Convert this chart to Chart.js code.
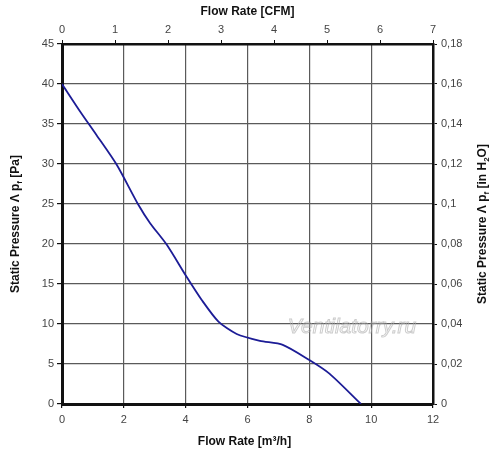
<!DOCTYPE html>
<html>
<head>
<meta charset="utf-8">
<script src="https://cdn.jsdelivr.net/npm/chart.js@4"></script>
<style>
  html, body { margin: 0; padding: 0; background: #fff; }
  #wrap { width: 500px; height: 461px; position: relative; }
</style>
</head>
<body>
<div id="wrap"><canvas id="fanChart"></canvas></div>
<script>
// flow rate in m3/h and static pressure in Pa
const flowRate = [0, 0.58, 1.12, 1.77, 2.47, 2.85, 3.39, 4.03, 4.52, 5.06, 5.65, 6.4, 7.14, 8.0, 8.65, 9.67];
const pressure = [40, 36.6, 33.6, 29.9, 24.9, 22.6, 19.9, 15.9, 13.0, 10.3, 8.75, 7.9, 7.4, 5.5, 3.8, 0];

const axisFont = { family: 'Liberation Sans, Arial, sans-serif', size: 11 };
const tickColor = '#444';
const gridColor = '#5a5a5a';

// draws a text made of pieces, some of them as subscript
function drawRich(ctx, parts, x, y, angle) {
    const big = 'bold 12px Liberation Sans, Arial, sans-serif';
    const small = 'bold 8px Liberation Sans, Arial, sans-serif';
    let total = 0;
    parts.forEach(function(p) {
        ctx.font = p.sub ? small : big;
        total += ctx.measureText(p.t).width;
    });
    ctx.save();
    ctx.translate(x, y);
    ctx.rotate(angle);
    ctx.fillStyle = '#111';
    ctx.textBaseline = 'middle';
    ctx.textAlign = 'left';
    let cx = -total / 2;
    parts.forEach(function(p) {
        ctx.font = p.sub ? small : big;
        ctx.fillText(p.t, cx, p.sub ? 4 : 0);
        cx += ctx.measureText(p.t).width;
    });
    ctx.restore();
}

const titlesPlugin = {
    id: 'titles',
    afterDraw: function(chart) {
        const ctx = chart.ctx;
        const area = chart.chartArea;
        const midX = (area.left + area.right) / 2;
        const midY = (area.top + area.bottom) / 2;
        drawRich(ctx, [{ t: 'Flow Rate [CFM]' }], midX, 12, 0);
        drawRich(ctx, [{ t: 'Flow Rate [m³/h]' }], midX - 3, 442, 0);
        drawRich(ctx, [{ t: 'Static Pressure Λ p' }, { t: 'f', sub: true }, { t: ' [Pa]' }], 16, midY, -Math.PI / 2);
        drawRich(ctx, [{ t: 'Static Pressure Λ p' }, { t: 'f', sub: true }, { t: ' [in H' }, { t: '2', sub: true }, { t: 'O]' }], 483, midY, -Math.PI / 2);

        // watermark
        ctx.save();
        ctx.font = 'italic 21px Liberation Sans, Arial, sans-serif';
        ctx.textAlign = 'center';
        ctx.textBaseline = 'middle';
        ctx.strokeStyle = 'rgba(170,170,170,0.6)';
        ctx.lineWidth = 1;
        ctx.strokeText('Ventilatorry.ru', 352, 327);
        ctx.restore();
    }
};

const ctx = document.getElementById('fanChart').getContext('2d');
new Chart(ctx, {
    type: 'scatter',
    data: {
        datasets: [{
            label: 'Static pressure',
            data: flowRate.map(function(q, i) { return { x: q, y: pressure[i] }; }),
            showLine: true,
            borderColor: '#1c1c96',
            borderWidth: 1.8,
            pointRadius: 0,
            tension: 0.25,
            xAxisID: 'x',
            yAxisID: 'y'
        }]
    },
    options: {
        responsive: true,
        maintainAspectRatio: false,
        animation: false,
        layout: { padding: 0 },
        plugins: {
            legend: { display: false },
            tooltip: { enabled: false }
        },
        scales: {
            x: {
                type: 'linear',
                position: 'bottom',
                min: 0, max: 12,
                ticks: { stepSize: 2, font: axisFont, color: tickColor, padding: 5, maxRotation: 0 },
                grid: { color: gridColor, lineWidth: 1.2, tickLength: 4, tickColor: '#111' },
                border: { color: '#111', width: 3 },
                afterFit: function(s) { s.height = 57; }
            },
            xTop: {
                type: 'linear',
                position: 'top',
                min: 0, max: 7,
                ticks: { stepSize: 1, font: axisFont, color: tickColor, padding: 3, maxRotation: 0 },
                grid: { drawOnChartArea: false, tickLength: 4, tickColor: '#111' },
                border: { color: '#111', width: 2.5 },
                afterFit: function(s) { s.height = 44; }
            },
            y: {
                type: 'linear',
                position: 'left',
                min: 0, max: 45,
                ticks: { stepSize: 5, font: axisFont, color: tickColor, padding: 3 },
                grid: { color: gridColor, lineWidth: 1.2, tickLength: 5, tickColor: '#111' },
                border: { color: '#111', width: 3 },
                afterFit: function(s) { s.width = 62; }
            },
            yRight: {
                type: 'linear',
                position: 'right',
                min: 0, max: 0.18,
                ticks: {
                    stepSize: 0.02, font: axisFont, color: tickColor, padding: 4,
                    callback: function(v) { return String(+v.toFixed(2)).replace('.', ','); }
                },
                grid: { drawOnChartArea: false, tickLength: 4, tickColor: '#111' },
                border: { color: '#111', width: 2.5 },
                afterFit: function(s) { s.width = 67; }
            }
        }
    },
    plugins: [titlesPlugin]
});
</script>
</body>
</html>
